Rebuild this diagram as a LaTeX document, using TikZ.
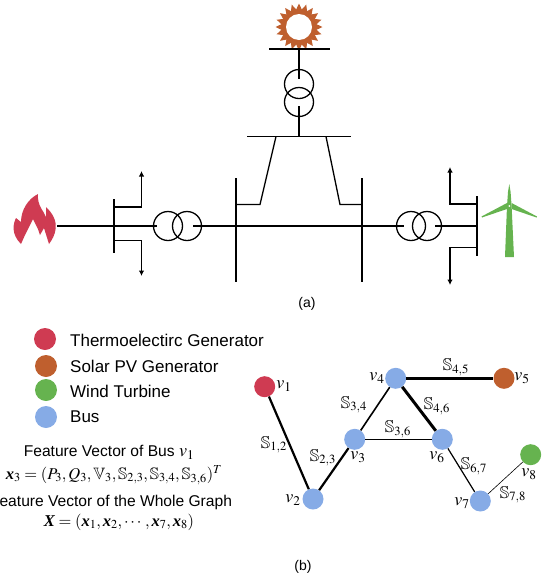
\documentclass[tikz,border=0pt]{standalone}
\usepackage{amsmath}
\usepackage{amssymb}
\usepackage{mathptmx}
\usepackage[no-math]{fontspec}
\setmainfont{Liberation Sans}
\newfontfamily\boldserif{Liberation Serif}
\newcommand{\bvec}[1]{\mbox{\boldserif\bfseries\itshape #1}}
\usepackage{xcolor}
\definecolor{gen-red}{HTML}{CF3B52}
\definecolor{pv-orange}{HTML}{BF5F2E}
\definecolor{wind-green}{HTML}{66B34F}
\definecolor{bus-blue}{HTML}{86ABE6}
\usetikzlibrary{arrows.meta}
\tikzset{
    wire/.style={line width=1.3pt, line cap=butt},
    load/.style={wire, -{Latex[length=5.5pt,width=5.5pt]}},
    vertex/.style={circle, inner sep=0pt, minimum size=21pt},
    legendtext/.style={anchor=west, inner sep=0pt, font=\fontsize{17}{18}\selectfont},
    eqtext/.style={inner sep=0pt, font=\fontsize{15.6}{17}\selectfont},
    eqmath/.style={inner sep=0pt, font=\fontsize{16.5}{18}\selectfont},
    vlabel/.style={font=\fontsize{18}{19}\selectfont, inner sep=0pt},
    slabel/.style={font=\fontsize{17}{18}\selectfont, inner sep=0pt},
    caption/.style={font=\fontsize{14}{16}\selectfont, inner sep=0pt}
}

\begin{document}
\begin{tikzpicture}[x=1pt, y=-1pt]

    \useasboundingbox (0, 0) rectangle (546, 582);

    % Thermoelectric flame
    \fill[gen-red] (38, 194) .. controls (28, 199) and (21, 210) .. (21, 222) -- (16, 218) .. controls (13, 224) and (11, 234) .. (21, 244)
        -- (25, 235) -- (33, 219) -- (38, 229) -- (40, 235) -- (44, 228) -- (49, 244) .. controls (55, 236) and (62, 222) .. (46, 207)
        -- (46, 217) .. controls (44, 211) and (37, 206) .. (38, 194) -- cycle;

    % Sun
    \foreach \a in {0, 18, ..., 342} {
        \fill[pv-orange] ({299 + 23.5 * cos(\a)}, {27 + 23.5 * sin(\a)}) -- ({299 + 15 * cos(\a) + 4 * sin(\a)}, {27 + 15 * sin(\a) - 4 * cos(\a)})
            -- ({299 + 15 * cos(\a) - 4 * sin(\a)}, {27 + 15 * sin(\a) + 4 * cos(\a)}) -- cycle;
    }
    \fill[pv-orange] (299, 27) circle (16);
    \fill[white] (299, 27) circle (13);

    % Wind turbine
    \fill[wind-green] (505, 257) -- (507, 206) -- (508, 192) -- (509.3, 184) -- (510.6, 192) -- (511.6, 206) -- (514, 257) -- cycle;
    \fill[wind-green] (507, 203) -- (481.5, 216.5) -- (482, 217.5) -- (507, 209) -- cycle;
    \fill[wind-green] (511.6, 203) -- (537, 216.5) -- (536.5, 217.5) -- (511.6, 209) -- cycle;
    \fill[white] (509.3, 206) circle (1);

    % Buses
    \draw[wire] (114, 199) -- (114, 253);
    \draw[wire] (236, 178) -- (236, 282);
    \draw[wire] (362, 178) -- (362, 282);
    \draw[wire] (477, 196) -- (477, 256);
    \draw[wire] (247, 136.5) -- (351, 136.5);
    \draw[wire] (269, 49) -- (330, 49);

    % Horizontal feeder
    \draw[wire] (57, 226) -- (157, 226);
    \draw[wire] (193, 226) -- (404, 226);
    \draw[wire] (435, 226) -- (477, 226);

    % Vertical feeder
    \draw[wire] (299, 49) -- (299, 79);
    \draw[wire] (299, 106) -- (299, 136.5);

    % Lines between buses
    \draw[wire] (236, 204.5) -- (260, 204.5) -- (276, 136.5);
    \draw[wire] (362, 204.5) -- (340, 204.5) -- (326, 136.5);

    % Transformers
    \draw[wire] (168, 226) circle (14.5);
    \draw[wire] (187, 226) circle (14.5);
    \draw[wire] (411, 226) circle (14.5);
    \draw[wire] (427, 226) circle (14.5);
    \draw[wire] (299, 84) circle (14.5);
    \draw[wire] (299, 102) circle (14.5);

    % Loads
    \draw[load] (114, 207) -- (141.5, 207) -- (141.5, 171);
    \draw[load] (114, 240.5) -- (141.5, 240.5) -- (141.5, 276);
    \draw[load] (477, 204) -- (450, 204) -- (450, 167);
    \draw[load] (477, 247.5) -- (450, 247.5) -- (450, 285);

    \node[caption] (cap-a) at (307, 304) {(a)};

    % Legend
    \fill[gen-red] (45, 339) circle (11);
    \fill[pv-orange] (46, 366) circle (11);
    \fill[wind-green] (46, 390) circle (11);
    \fill[bus-blue] (46, 417) circle (11);
    \node[legendtext] (leg-gen) at (70, 340) {Thermoelectirc Generator};
    \node[legendtext] (leg-pv) at (70, 366) {Solar PV Generator};
    \node[legendtext] (leg-wind) at (70, 391) {Wind Turbine};
    \node[legendtext] (leg-bus) at (70, 417) {Bus};

    % Feature vectors
    \node[eqtext] (feat-bus) at (109, 452) {Feature Vector of Bus \fontsize{18}{19}\selectfont$v_1$};
    \node[eqmath] (eq-bus) at (114, 475) {$\bvec{x}_3=(P_3,Q_3,\mathbb{V}_3,\mathbb{S}_{2,3},\mathbb{S}_{3,4},\mathbb{S}_{3,6})^T$};
    \node[eqtext] (feat-graph) at (111, 502) {Feature Vector of the Whole Graph};
    \node[eqmath] (eq-graph) at (119, 522) {$\bvec{X}=(\bvec{x}_1,\bvec{x}_2,\cdots,\bvec{x}_7,\bvec{x}_8)$};

    % Graph
    \node[vertex, fill=gen-red] (v1) at (264.7, 386.7) {};
    \node[vertex, fill=bus-blue] (v2) at (313, 499) {};
    \node[vertex, fill=bus-blue] (v3) at (354.7, 439.3) {};
    \node[vertex, fill=bus-blue] (v4) at (395.7, 378.3) {};
    \node[vertex, fill=pv-orange] (v5) at (504, 378.3) {};
    \node[vertex, fill=bus-blue] (v6) at (442.3, 439.3) {};
    \node[vertex, fill=bus-blue] (v7) at (480.3, 501) {};
    \node[vertex, fill=wind-green] (v8) at (530.7, 454.7) {};

    \draw[line width=2.2pt] (v1) -- (v2);
    \draw[line width=2.2pt] (v2) -- (v3);
    \draw[line width=1.6pt] (v3) -- (v4);
    \draw[line width=3pt] (v4) -- (v5);
    \draw[line width=3pt] (v4) -- (v6);
    \draw[line width=0.7pt] (v3) -- (v6);
    \draw[line width=1.2pt] (v6) -- (v7);
    \draw[line width=0.6pt] (v7) -- (v8);

    \node[vlabel] (lab-v1) at (284, 386) {$v_1$};
    \node[vlabel] (lab-v2) at (293, 500) {$v_2$};
    \node[vlabel] (lab-v3) at (358, 457) {$v_3$};
    \node[vlabel] (lab-v4) at (377, 378) {$v_4$};
    \node[vlabel] (lab-v5) at (522, 378) {$v_5$};
    \node[vlabel] (lab-v6) at (437, 457) {$v_6$};
    \node[vlabel] (lab-v7) at (462, 503) {$v_7$};
    \node[vlabel] (lab-v8) at (529, 474) {$v_8$};

    \node[slabel] (lab-s12) at (274, 445) {$\mathbb{S}_{1,2}$};
    \node[slabel] (lab-s23) at (323, 458) {$\mathbb{S}_{2,3}$};
    \node[slabel] (lab-s34) at (354, 405) {$\mathbb{S}_{3,4}$};
    \node[slabel] (lab-s36) at (398, 429) {$\mathbb{S}_{3,6}$};
    \node[slabel] (lab-s45) at (456, 367) {$\mathbb{S}_{4,5}$};
    \node[slabel] (lab-s46) at (437, 406) {$\mathbb{S}_{4,6}$};
    \node[slabel] (lab-s67) at (474, 466) {$\mathbb{S}_{6,7}$};
    \node[slabel] (lab-s78) at (513, 495) {$\mathbb{S}_{7,8}$};

    \node[caption] (cap-b) at (303, 567) {(b)};

\end{tikzpicture}
\end{document}
